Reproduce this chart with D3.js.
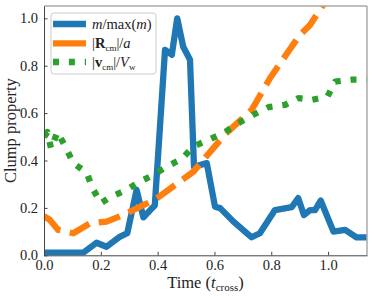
<!DOCTYPE html>
<html lang="en">
<head>
    <meta charset="UTF-8">
    <title>Clump properties</title>
    <style>
        body, html {
            margin: 0;
            padding: 0;
            background: #fff;
            overflow: hidden;
        }
        svg text {
            font-family: "Liberation Serif", "DejaVu Serif", serif;
            fill: #222;
        }
    </style>
</head>
<body>
    <svg id="chart" width="374" height="298"></svg>

    <script src="https://cdnjs.cloudflare.com/ajax/libs/d3/7.8.5/d3.min.js"></script>
    <script>
        // m / max(m)
        const massT = [0, 0.138, 0.185, 0.22, 0.268, 0.293, 0.326, 0.35, 0.373, 0.39, 0.426, 0.45, 0.469, 0.49, 0.514,
            0.528, 0.573, 0.602, 0.62, 0.667, 0.731, 0.76, 0.813, 0.872, 0.895, 0.915, 0.937, 0.954, 0.974,
            1.019, 1.06, 1.10, 1.137];
        const massV = [0.011, 0.011, 0.053, 0.036, 0.079, 0.093, 0.276, 0.16, 0.19, 0.21, 0.867, 0.846, 1.0, 0.88, 0.825,
            0.374, 0.389, 0.205, 0.199, 0.142, 0.076, 0.093, 0.191, 0.203, 0.241, 0.17, 0.191, 0.191, 0.231,
            0.1, 0.107, 0.076, 0.076];

        // |R_cm| / a
        const radT = [0, 0.02, 0.05, 0.103, 0.162, 0.22, 0.279, 0.338, 0.39, 0.526, 0.637, 0.731, 0.796, 0.86, 0.901, 0.937, 0.99];
        const radV = [0.165, 0.15, 0.107, 0.093, 0.135, 0.142, 0.17, 0.205, 0.234, 0.353, 0.51, 0.614, 0.748, 0.86, 0.93, 0.973, 1.07];

        // |v_cm| / V_w
        const velT = [0, 0.012, 0.025, 0.047, 0.078, 0.103, 0.15, 0.171, 0.2, 0.232, 0.285, 0.338, 0.385, 0.432, 0.485,
            0.526, 0.585, 0.634, 0.684, 0.737, 0.79, 0.849, 0.895, 0.943, 0.998, 1.025, 1.083, 1.137];
        const velV = [0.5, 0.52, 0.45, 0.52, 0.452, 0.389, 0.349, 0.283, 0.22, 0.245, 0.273, 0.311, 0.339, 0.374, 0.407,
            0.459, 0.49, 0.517, 0.558, 0.593, 0.625, 0.635, 0.663, 0.656, 0.67, 0.733, 0.741, 0.741];

        const xTicks = [0, 0.2, 0.4, 0.6, 0.8, 1.0];
        const yTicks = [0, 0.2, 0.4, 0.6, 0.8, 1.0];

        const svg = d3.select("#chart");
        const plotL = 44, plotR = 367, plotT = 6, plotB = 255.3;

        const x = d3.scaleLinear().domain([0, 1.137]).range([plotL, plotR]);
        const y = d3.scaleLinear().domain([0, 1.052]).range([plotB, plotT]);

        svg.append("defs").append("clipPath").attr("id", "clip")
            .append("rect")
            .attr("x", plotL).attr("y", plotT)
            .attr("width", plotR - plotL).attr("height", plotB - plotT);

        const line = d3.line().x(d => x(d[0])).y(d => y(d[1]));
        const plot = svg.append("g").attr("clip-path", "url(#clip)");

        const series = [
            {t: massT, v: massV, color: "#1f77b4", dash: null},
            {t: radT, v: radV, color: "#ff7f0e", dash: "22.2,9.6"},
            {t: velT, v: velV, color: "#2ca02c", dash: "6,9.9"}
        ];

        series.forEach(s => {
            plot.append("path")
                .datum(s.t.map((t, i) => [t, s.v[i]]))
                .attr("d", line)
                .attr("fill", "none")
                .attr("stroke", s.color)
                .attr("stroke-width", 6.3)
                .attr("stroke-linejoin", "round")
                .attr("stroke-linecap", "butt")
                .attr("stroke-dasharray", s.dash);
        });

        // top / right spines
        svg.append("line").attr("x1", plotL).attr("x2", plotR).attr("y1", plotT).attr("y2", plotT)
            .attr("stroke", "#aaa").attr("stroke-width", 1.5);
        svg.append("line").attr("x1", plotR).attr("x2", plotR).attr("y1", plotT).attr("y2", plotB)
            .attr("stroke", "#aaa").attr("stroke-width", 1.5);

        const xAxis = svg.append("g")
            .attr("transform", `translate(0,${plotB})`)
            .call(d3.axisBottom(x).tickValues(xTicks).tickFormat(d3.format(".1f")).tickSizeInner(-3.5).tickSizeOuter(0).tickPadding(4));
        const yAxis = svg.append("g")
            .attr("transform", `translate(${plotL},0)`)
            .call(d3.axisLeft(y).tickValues(yTicks).tickFormat(d3.format(".1f")).tickSizeInner(-3.5).tickSizeOuter(0).tickPadding(6));

        [xAxis, yAxis].forEach(a => {
            a.select(".domain").attr("stroke", "#444").attr("stroke-width", 1);
            a.selectAll(".tick line").attr("stroke", "#444");
            a.selectAll("text").attr("font-size", 14.5).attr("fill", "#222")
                .attr("font-family", "Liberation Serif, serif");
        });

        // axis labels
        const xl = svg.append("text")
            .attr("x", (plotL + plotR) / 2).attr("y", 288)
            .attr("text-anchor", "middle").attr("font-size", 16.5);
        xl.append("tspan").text("Time (");
        xl.append("tspan").attr("font-style", "italic").text("t");
        xl.append("tspan").attr("font-size", 11).attr("dy", 3).text("cross");
        xl.append("tspan").attr("dy", -3).text(")");

        svg.append("text")
            .attr("transform", `translate(16,${(plotT + plotB) / 2}) rotate(-90)`)
            .attr("text-anchor", "middle").attr("font-size", 16.5)
            .text("Clump property");

        // legend
        const lg = svg.append("g");
        lg.append("rect")
            .attr("x", 51).attr("y", 13).attr("width", 105).attr("height", 61)
            .attr("rx", 3).attr("fill", "#fff").attr("fill-opacity", 0.85)
            .attr("stroke", "#ccc").attr("stroke-width", 1);

        const rows = [24, 43.3, 62];
        series.forEach((s, i) => {
            lg.append("line")
                .attr("x1", 53).attr("x2", 86).attr("y1", rows[i]).attr("y2", rows[i])
                .attr("stroke", s.color).attr("stroke-width", 6.3)
                .attr("stroke-dasharray", i === 2 ? "6,9.9" : null);
        });

        const t0 = lg.append("text").attr("x", 92).attr("y", rows[0] + 5).attr("font-size", 14.5);
        t0.append("tspan").attr("font-style", "italic").text("m");
        t0.append("tspan").text("/max(");
        t0.append("tspan").attr("font-style", "italic").text("m");
        t0.append("tspan").text(")");

        const t1 = lg.append("text").attr("x", 92).attr("y", rows[1] + 5).attr("font-size", 14.5);
        t1.append("tspan").text("|");
        t1.append("tspan").attr("font-weight", "bold").text("R");
        t1.append("tspan").attr("font-size", 9).attr("dy", 3).text("cm");
        t1.append("tspan").attr("dy", -3).text("|/");
        t1.append("tspan").attr("font-style", "italic").text("a");

        const t2 = lg.append("text").attr("x", 92).attr("y", rows[2] + 5).attr("font-size", 14.5);
        t2.append("tspan").text("|");
        t2.append("tspan").attr("font-weight", "bold").text("v");
        t2.append("tspan").attr("font-size", 9).attr("dy", 3).text("cm");
        t2.append("tspan").attr("dy", -3).text("|/");
        t2.append("tspan").attr("font-style", "italic").text("V");
        t2.append("tspan").attr("font-size", 9).attr("dy", 3).text("w");
    </script>
</body>
</html>
